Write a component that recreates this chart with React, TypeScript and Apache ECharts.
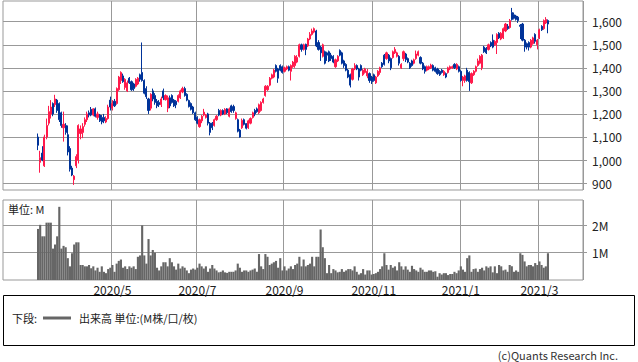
import React, { useEffect, useRef } from 'react';
import * as echarts from 'echarts';

// ---- calendar (trading days shown on the axis) ----
const HOLIDAYS = [
  '2020-02-24', '2020-03-20', '2020-04-29', '2020-05-04', '2020-05-05', '2020-05-06',
  '2020-07-23', '2020-07-24', '2020-08-10', '2020-09-21', '2020-09-22', '2020-11-03',
  '2020-11-23', '2020-12-31', '2021-01-01', '2021-01-11', '2021-02-11', '2021-02-23',
];
const AXIS_START = '2020-02-17';
const AXIS_END = '2021-03-29';
const FIRST_DATA_DAY = '2020-03-11';

// month labels on the x axis (gridline at first trading day of each month)
const monthLabels = ['2020/5', '2020/7', '2020/9', '2020/11', '2021/1', '2021/3'];

// price axis tick labels and volume axis ticks
const priceTicks = [900, 1000, 1100, 1200, 1300, 1400, 1500, 1600];
const volumeTicks = [1, 2];

// ---- daily prices (from 2020-03-11) ----
const opens = [
  1100, 990, 1030, 975, 1100, 1160, 1200, 1245, 1240, 1260, 1245, 1205, 1140, 1150, 1110, 1050, 965, 915, 975, 1000,
  1115, 1120, 1155, 1175, 1205, 1220, 1195, 1222, 1185, 1195,
  1185, 1185, 1165, 1180, 1260, 1225, 1255, 1245, 1305, 1345, 1365, 1315, 1300, 1355, 1340, 1330, 1320, 1330, 1370, 1380,
  1345, 1310, 1265, 1225, 1300, 1280, 1255, 1250, 1240, 1300,
  1262, 1225, 1270, 1280, 1260, 1255, 1255, 1270, 1295, 1310, 1285, 1258, 1245, 1230, 1205, 1185, 1145, 1170, 1195, 1185,
  1200, 1160, 1160, 1150, 1175, 1215, 1195, 1215, 1200, 1222, 1190,
  1235, 1232, 1180, 1175, 1130, 1140, 1175, 1158, 1140, 1160, 1185, 1215, 1222, 1205, 1215, 1250, 1280, 1305, 1325, 1355,
  1360, 1410, 1395, 1410, 1405, 1385, 1395, 1405, 1385, 1405,
  1410, 1425, 1450, 1500, 1480, 1502, 1495, 1525, 1545, 1555, 1560, 1510, 1490, 1450, 1470, 1465, 1470, 1455, 1450, 1405,
  1430, 1475, 1465, 1430, 1415, 1390, 1370, 1350, 1395, 1410, 1395,
  1410, 1370, 1380, 1365, 1375, 1360, 1370, 1335, 1365, 1380, 1420, 1455, 1440, 1455, 1440, 1445, 1465, 1450, 1450, 1400,
  1440, 1460, 1440, 1420, 1430, 1420, 1440, 1455, 1445, 1420, 1405,
  1390, 1395, 1400, 1410, 1400, 1395, 1385, 1390, 1370, 1375, 1380, 1395, 1400, 1415, 1395, 1405, 1385, 1345, 1345, 1390,
  1380, 1335, 1370, 1385, 1410, 1420, 1400, 1490, 1485, 1480,
  1510, 1520, 1500, 1510, 1550, 1525, 1530, 1560, 1580, 1575, 1640, 1630, 1625, 1620, 1585, 1590, 1520, 1505, 1510, 1490,
  1505, 1545, 1500, 1530, 1580, 1570, 1595, 1605,
];
const closes = [
  1064, 1010, 1000, 1100, 1150, 1210, 1230, 1200, 1265, 1215, 1175, 1150, 1155, 1120, 1035, 960, 935, 930, 1015, 1150,
  1135, 1145, 1175, 1200, 1195, 1195, 1222, 1190, 1200, 1170,
  1165, 1170, 1180, 1230, 1230, 1245, 1235, 1310, 1360, 1380, 1340, 1350, 1335, 1335, 1305, 1310, 1350, 1355, 1350, 1345,
  1290, 1275, 1215, 1285, 1265, 1250, 1235, 1240, 1265, 1270,
  1280, 1270, 1235, 1250, 1235, 1240, 1280, 1300, 1310, 1280, 1260, 1232, 1220, 1205, 1175, 1160, 1175, 1190, 1208, 1195,
  1160, 1120, 1140, 1175, 1190, 1195, 1215, 1200, 1220, 1205, 1222,
  1210, 1215, 1205, 1125, 1100, 1172, 1155, 1138, 1170, 1180, 1205, 1200, 1210, 1240, 1250, 1265, 1320, 1320, 1355, 1370,
  1390, 1385, 1355, 1390, 1380, 1400, 1405, 1390, 1410, 1425,
  1450, 1445, 1500, 1480, 1500, 1480, 1525, 1545, 1560, 1570, 1495, 1480, 1465, 1500, 1420, 1455, 1430, 1440, 1425, 1435,
  1450, 1455, 1420, 1410, 1390, 1360, 1325, 1395, 1410, 1395, 1360,
  1390, 1390, 1395, 1385, 1345, 1340, 1345, 1360, 1385, 1400, 1405, 1415, 1465, 1430, 1400, 1470, 1480, 1465, 1420, 1415,
  1470, 1435, 1425, 1400, 1410, 1435, 1460, 1470, 1420, 1395, 1385,
  1405, 1405, 1412, 1390, 1385, 1375, 1370, 1380, 1385, 1360, 1400, 1405, 1405, 1400, 1415, 1385, 1345, 1360, 1365, 1345,
  1340, 1375, 1385, 1405, 1430, 1450, 1455, 1470, 1465, 1500,
  1495, 1490, 1515, 1545, 1530, 1550, 1570, 1590, 1570, 1605, 1610, 1615, 1610, 1605, 1580, 1520, 1490, 1490, 1490, 1520,
  1530, 1515, 1520, 1565, 1565, 1605, 1610, 1590,
];
const lows = [
  1043, 945, 995, 970, 1090, 1150, 1180, 1190, 1230, 1205, 1165, 1140, 1080, 1110, 1020, 950, 930, 892, 965, 985,
  1090, 1095, 1145, 1165, 1185, 1190, 1190, 1185, 1175, 1165,
  1155, 1160, 1160, 1175, 1215, 1215, 1230, 1240, 1300, 1330, 1335, 1305, 1295, 1330, 1300, 1300, 1315, 1325, 1340, 1340,
  1285, 1265, 1200, 1215, 1255, 1240, 1225, 1230, 1230, 1260,
  1258, 1208, 1225, 1245, 1230, 1225, 1250, 1265, 1290, 1275, 1255, 1228, 1215, 1200, 1170, 1155, 1140, 1160, 1190, 1180,
  1150, 1107, 1130, 1145, 1170, 1190, 1190, 1195, 1195, 1200, 1185,
  1205, 1205, 1175, 1120, 1097, 1135, 1150, 1133, 1135, 1155, 1180, 1190, 1205, 1200, 1210, 1245, 1275, 1300, 1320, 1350,
  1355, 1380, 1335, 1385, 1375, 1380, 1390, 1385, 1345, 1400,
  1400, 1420, 1445, 1470, 1475, 1455, 1490, 1520, 1540, 1550, 1490, 1475, 1430, 1445, 1415, 1430, 1425, 1430, 1420, 1400,
  1425, 1450, 1415, 1400, 1385, 1355, 1315, 1345, 1390, 1390, 1345,
  1385, 1365, 1375, 1355, 1335, 1330, 1340, 1330, 1360, 1370, 1400, 1410, 1435, 1420, 1390, 1440, 1460, 1445, 1410, 1395,
  1430, 1425, 1420, 1395, 1405, 1415, 1435, 1450, 1415, 1390, 1375,
  1385, 1390, 1395, 1385, 1380, 1370, 1365, 1375, 1365, 1355, 1375, 1390, 1395, 1395, 1390, 1380, 1340, 1320, 1335, 1340,
  1300, 1330, 1365, 1380, 1405, 1415, 1390, 1465, 1460, 1475,
  1490, 1485, 1495, 1460, 1525, 1520, 1525, 1555, 1565, 1570, 1605, 1610, 1605, 1595, 1525, 1515, 1470, 1480, 1475, 1485,
  1500, 1505, 1480, 1525, 1560, 1565, 1590, 1550,
];
const highs = [
  1115, 1040, 1060, 1110, 1180, 1235, 1260, 1250, 1283, 1265, 1250, 1210, 1210, 1160, 1150, 1060, 975, 935, 1025, 1155,
  1150, 1160, 1185, 1210, 1215, 1230, 1225, 1228, 1210, 1200,
  1195, 1200, 1190, 1240, 1275, 1260, 1265, 1315, 1365, 1385, 1375, 1355, 1345, 1360, 1345, 1335, 1355, 1360, 1375, 1510,
  1350, 1320, 1270, 1290, 1310, 1290, 1265, 1260, 1275, 1310,
  1285, 1280, 1280, 1285, 1265, 1260, 1285, 1305, 1318, 1318, 1290, 1262, 1250, 1235, 1210, 1190, 1180, 1195, 1222, 1200,
  1205, 1165, 1165, 1180, 1195, 1222, 1220, 1220, 1225, 1225, 1228,
  1240, 1240, 1210, 1180, 1135, 1180, 1180, 1160, 1175, 1185, 1210, 1222, 1228, 1245, 1255, 1270, 1325, 1325, 1360, 1375,
  1395, 1415, 1400, 1415, 1410, 1405, 1410, 1410, 1415, 1430,
  1455, 1455, 1505, 1505, 1505, 1505, 1530, 1555, 1570, 1575, 1565, 1520, 1495, 1505, 1475, 1470, 1475, 1465, 1455, 1440,
  1455, 1480, 1470, 1435, 1420, 1395, 1375, 1400, 1420, 1415, 1400,
  1415, 1395, 1400, 1395, 1380, 1365, 1375, 1365, 1390, 1405, 1425, 1460, 1470, 1460, 1445, 1475, 1490, 1470, 1455, 1420,
  1475, 1465, 1445, 1425, 1435, 1440, 1475, 1475, 1450, 1425, 1410,
  1410, 1410, 1418, 1415, 1405, 1400, 1390, 1395, 1390, 1380, 1405, 1410, 1410, 1420, 1420, 1410, 1390, 1365, 1370, 1400,
  1385, 1380, 1390, 1410, 1440, 1455, 1460, 1495, 1490, 1505,
  1515, 1545, 1520, 1550, 1555, 1555, 1575, 1595, 1590, 1612, 1660, 1640, 1630, 1625, 1590, 1595, 1525, 1510, 1515, 1525,
  1535, 1550, 1525, 1570, 1585, 1610, 1620, 1610,
];

// ---- daily volume, millions of shares (from 2020-03-11) ----
const volumes = [
  1.87, 2.02, 1.6, 1.6, 2.1, 2.1, 2.1, 1.15, 1.3, 1.6, 2.68, 1.15, 1.25, 1.2, 0.8, 0.5, 0.98, 1.3, 1.38, 1.38,
  0.55, 0.55, 0.5, 0.5, 0.55, 0.43, 0.5, 0.35, 0.45, 0.3,
  0.5, 0.3, 0.25, 0.4, 0.45, 0.55, 0.3, 0.6, 0.7, 0.75, 0.45, 0.5, 0.4, 0.5, 0.45, 0.5, 0.4, 0.85, 0.9, 2.0,
  0.9, 0.6, 1.5, 0.9, 1.1, 1.0, 0.45, 0.35, 0.5, 0.65,
  0.65, 0.5, 0.8, 0.65, 0.5, 0.38, 0.6, 0.42, 0.5, 0.45, 0.35, 0.25, 0.38, 0.42, 0.38, 0.45, 0.6, 0.5, 0.42, 0.5,
  0.3, 0.42, 0.55, 0.42, 0.35, 0.28, 0.3, 0.35, 0.28, 0.26, 0.3,
  0.3, 0.3, 0.35, 0.6, 0.45, 0.3, 0.35, 0.35, 0.3, 0.35, 0.38, 0.42, 0.3, 0.95, 0.5, 0.4, 0.95, 0.85, 0.55, 0.6,
  0.65, 0.7, 0.45, 0.8, 0.35, 0.5, 0.35, 0.42, 0.5, 0.4,
  0.55, 0.6, 0.85, 0.5, 0.75, 0.5, 0.55, 0.6, 0.85, 0.5, 0.85, 0.85, 1.85, 1.2, 0.8, 0.25, 0.55, 0.25, 0.4, 0.35,
  0.28, 0.3, 0.4, 0.3, 0.35, 0.4, 0.4, 0.35, 0.5, 0.3, 0.2,
  0.25, 0.4, 0.2, 0.35, 0.35, 0.2, 0.22, 0.25, 0.3, 0.4, 0.5, 0.98, 0.55, 0.38, 0.55, 0.45, 0.5, 0.35, 0.65, 0.5,
  0.38, 0.5, 0.38, 0.3, 0.52, 0.4, 0.35, 0.3, 0.45, 0.38, 0.3,
  0.3, 0.35, 0.35, 0.3, 0.32, 0.12, 0.25, 0.2, 0.25, 0.25, 0.18, 0.22, 0.22, 0.3, 0.25, 0.35, 0.5, 0.38, 0.3, 0.8,
  0.9, 0.3, 0.4, 0.42, 0.3, 0.4, 0.45, 0.35, 0.5, 0.45,
  0.5, 0.28, 0.5, 0.25, 0.55, 0.5, 0.35, 0.38, 0.3, 0.55, 0.5, 0.3, 0.35, 0.3, 0.98, 0.92, 0.68, 0.5, 0.55, 0.55,
  0.5, 0.62, 0.55, 0.68, 0.55, 0.45, 0.5, 0.98,
];

const RED = '#ff1a4b';
const BLUE = '#003399';
const GRID = '#999999';
const FONT = '"Noto Sans CJK JP", "Noto Sans", sans-serif';

function tradingDays(): string[] {
  const out: string[] = [];
  const d = new Date(AXIS_START + 'T00:00:00Z');
  const end = new Date(AXIS_END + 'T00:00:00Z').getTime();
  while (d.getTime() <= end) {
    const dow = d.getUTCDay();
    const s = d.toISOString().slice(0, 10);
    if (dow !== 0 && dow !== 6 && HOLIDAYS.indexOf(s) < 0) out.push(s);
    d.setUTCDate(d.getUTCDate() + 1);
  }
  return out;
}

function monthKey(s: string): string {
  return `${Number(s.slice(0, 4))}/${Number(s.slice(5, 7))}`;
}

export default function App() {
  const ref = useRef<HTMLDivElement>(null);

  useEffect(() => {
    if (!ref.current) return;
    const chart = echarts.init(ref.current, undefined, { renderer: 'svg' });

    const days = tradingDays();
    const first = days.indexOf(FIRST_DATA_DAY);
    const gridIdx = new Set<number>();
    days.forEach((d, i) => {
      if (i > 0 && monthKey(d) !== monthKey(days[i - 1]) && monthLabels.indexOf(monthKey(d)) >= 0) gridIdx.add(i);
    });

    const candleData = days.map((_, i) => {
      const k = i - first;
      if (k < 0 || k >= opens.length) return ['-', '-', '-', '-'];
      return [opens[k], closes[k], lows[k], highs[k]];
    });
    const volData = days.map((_, i) => {
      const k = i - first;
      if (k < 0 || k >= volumes.length) return '-';
      return volumes[k];
    });

    const labelStyle = { fontFamily: FONT, fontSize: 12, color: '#222' };
    const vSplit = {
      show: true,
      interval: (i: number) => gridIdx.has(i),
      lineStyle: { color: GRID, width: 1 },
    };

    chart.setOption({
      animation: false,
      grid: [
        { left: 3, top: 1, width: 580, height: 189, show: true, borderColor: GRID, borderWidth: 1 },
        { left: 3, top: 200, width: 580, height: 80, show: true, borderColor: GRID, borderWidth: 1 },
      ],
      xAxis: [
        {
          type: 'category', gridIndex: 0, data: days, boundaryGap: true,
          axisLine: { show: false }, axisTick: { show: false }, axisLabel: { show: false },
          splitLine: vSplit,
        },
        {
          type: 'category', gridIndex: 1, data: days, boundaryGap: true,
          axisLine: { show: false }, axisTick: { show: false },
          axisLabel: {
            show: true, interval: (i: number) => gridIdx.has(i),
            formatter: (v: string) => monthKey(v), margin: 3, ...labelStyle,
          },
          splitLine: vSplit,
        },
      ],
      yAxis: [
        {
          type: 'value', gridIndex: 0, position: 'right', min: 870, max: 1690, scale: true,
          axisLine: { show: false },
          axisTick: { show: true, inside: false, length: 4, lineStyle: { color: GRID }, customValues: priceTicks },
          axisLabel: {
            customValues: priceTicks, margin: 9, ...labelStyle,
            formatter: (v: number) => v.toLocaleString('en-US'),
          },
          splitLine: { show: false },
        },
        {
          type: 'value', gridIndex: 1, position: 'right', min: 0, max: 2.93,
          axisLine: { show: false },
          axisTick: { show: true, inside: false, length: 4, lineStyle: { color: GRID }, customValues: volumeTicks },
          axisLabel: {
            customValues: volumeTicks, margin: 9, ...labelStyle,
            formatter: (v: number) => `${v}M`,
          },
          splitLine: { show: false },
        },
      ],
      series: [
        {
          type: 'candlestick', xAxisIndex: 0, yAxisIndex: 0, data: candleData,
          barWidth: 1.6,
          itemStyle: { color: RED, color0: BLUE, borderColor: RED, borderColor0: BLUE, borderWidth: 1 },
          markLine: {
            z: 1, silent: true, symbol: 'none', label: { show: false },
            lineStyle: { color: GRID, type: 'solid', width: 1 },
            data: priceTicks.map((v) => ({ yAxis: v })),
          },
        },
        {
          type: 'bar', xAxisIndex: 1, yAxisIndex: 1, data: volData,
          barCategoryGap: '0%', itemStyle: { color: '#666666' },
          markLine: {
            z: 1, silent: true, symbol: 'none', label: { show: false },
            lineStyle: { color: GRID, type: 'solid', width: 1 },
            data: volumeTicks.map((v) => ({ yAxis: v })),
          },
        },
      ],
      graphic: [
        { type: 'text', left: 8, top: 203, style: { text: '単位: M', font: `11px ${FONT}`, fill: '#222' } },
        {
          type: 'rect', shape: { x: 3.5, y: 295.5, width: 631, height: 50 },
          style: { fill: 'none', stroke: '#000', lineWidth: 1 },
        },
        { type: 'text', x: 12, y: 318, style: { text: '下段:', font: `11px ${FONT}`, fill: '#222', verticalAlign: 'middle' } },
        { type: 'line', shape: { x1: 43, y1: 318, x2: 71, y2: 318 }, style: { stroke: '#666', lineWidth: 3 } },
        {
          type: 'text', x: 79, y: 318,
          style: { text: '出来高 単位:(M株/口/枚)', font: `11px ${FONT}`, fill: '#222', verticalAlign: 'middle' },
        },
        {
          type: 'text', x: 618, y: 354.5,
          style: { text: '(c)Quants Research Inc.', font: `11px ${FONT}`, fill: '#333', align: 'right', verticalAlign: 'middle' },
        },
      ],
    });

    return () => chart.dispose();
  }, []);

  return (
    <div
      ref={ref}
      style={{ position: 'fixed', left: 0, top: 0, width: 638, height: 362, background: '#fff' }}
    />
  );
}
